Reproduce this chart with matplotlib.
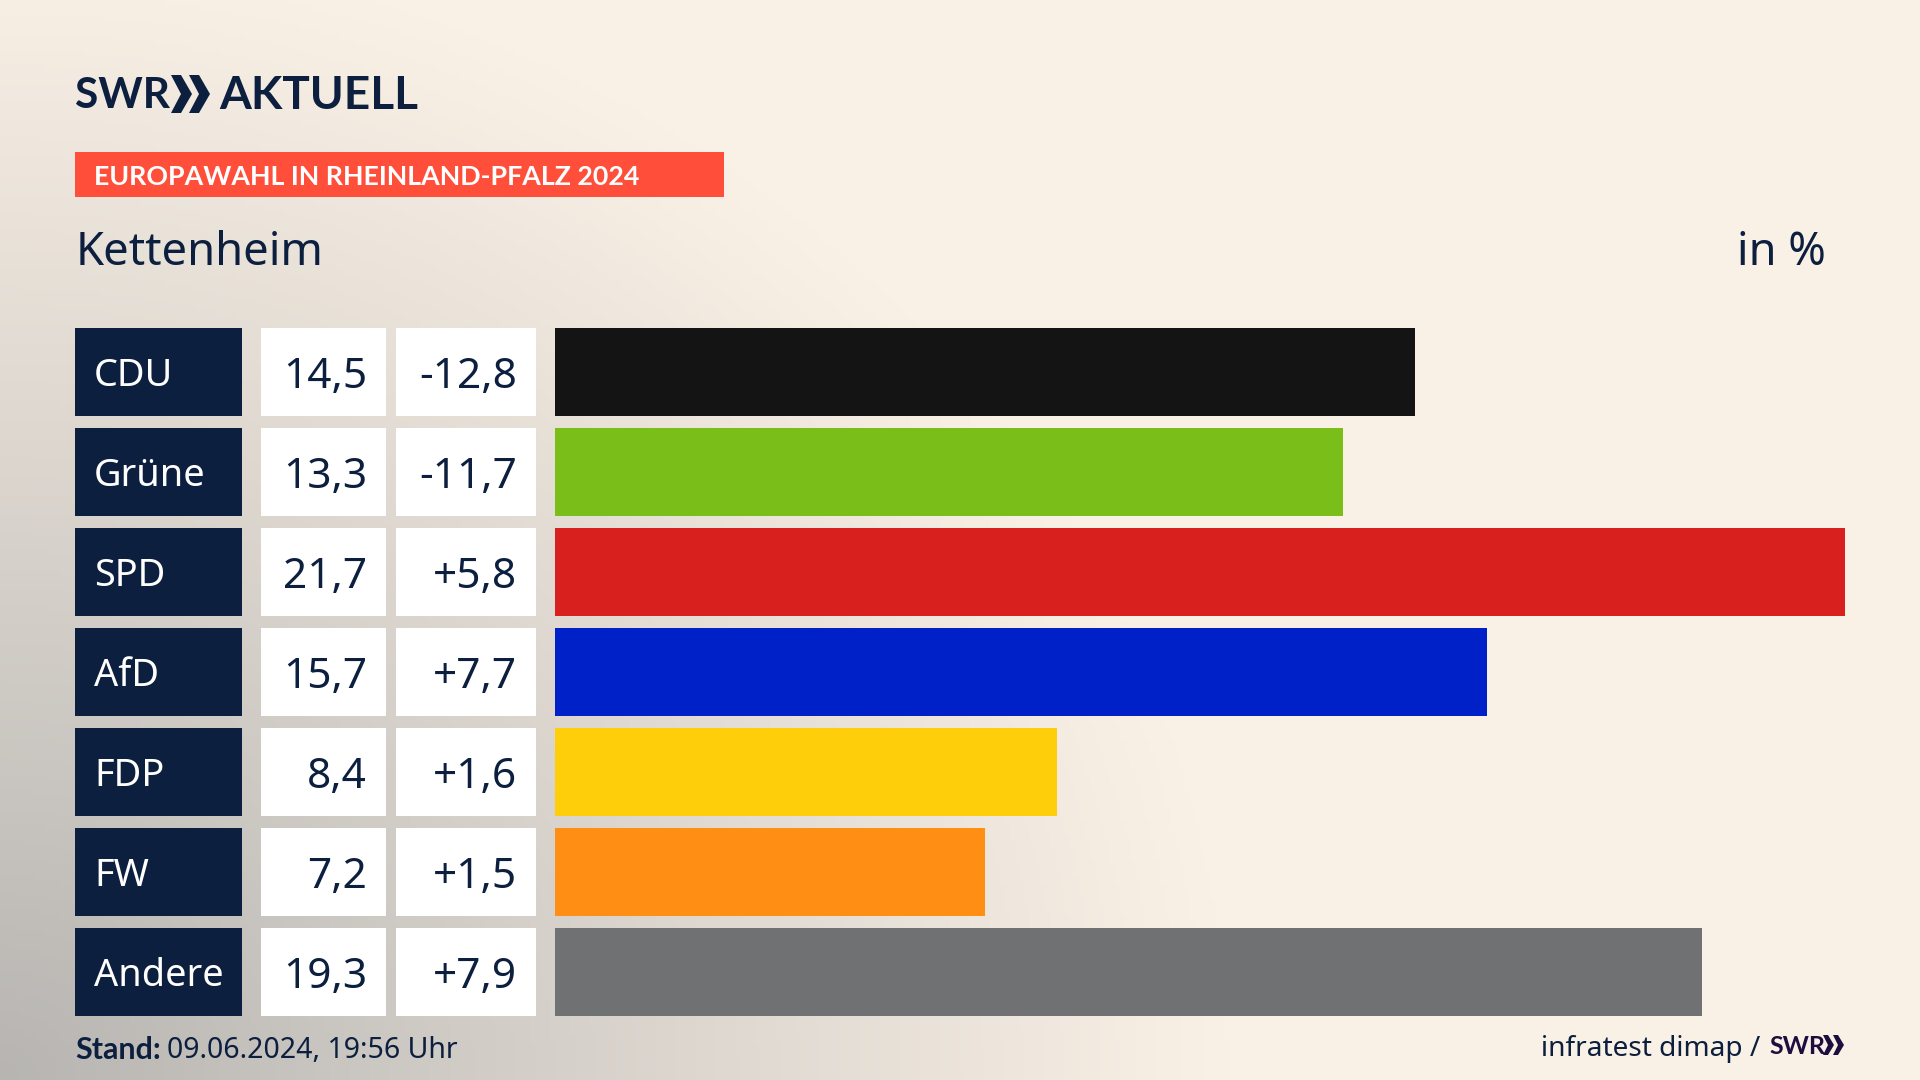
#Wahlbalken Kettenheim, Europawahl 2024
from matplotlib import pyplot as plt
from matplotlib.patches import Rectangle, Polygon
import numpy as np

parties = ['CDU', 'Grüne', 'SPD', 'AfD', 'FDP', 'FW', 'Andere']
#Bar lengths, the labels are the printed values
shares = [14.46, 13.25, 21.7, 15.67, 8.44, 7.23, 19.3]
share_labels = ['14,5', '13,3', '21,7', '15,7', '8,4', '7,2', '19,3']
diff_labels = ['-12,8', '-11,7', '+5,8', '+7,7', '+1,6', '+1,5', '+7,9']
bar_colors = ['#141414', '#7ABE1A', '#D8201E', '#0020C8', '#FFCE0A', '#FF8E15', '#707173']

NAVY = '#0C1F3F'
FONT = 'Noto Sans'
BOLD = 'Lato'

fig = plt.figure(figsize=(19.2, 10.8), dpi=100)

#Background layer in pixel coordinates
bg = fig.add_axes([0, 0, 1, 1])
bg.axis('off')

#Grey glow from the bottom left corner into the cream colour
xx, yy = np.meshgrid(np.linspace(0, 1, 384), np.linspace(0, 1, 216))
fade = np.clip(1 - np.sqrt((xx / 0.64) ** 2 + ((1 - yy) / 1.05) ** 2), 0, 1)
cream = np.array([250, 241, 230]) / 255
grey = np.array([183, 181, 178]) / 255
img = cream[None, None, :] + (grey - cream)[None, None, :] * fade[:, :, None]
bg.imshow(img, extent=[0, 1920, 1080, 0], aspect='auto', zorder=0)
bg.set_xlim(0, 1920)
bg.set_ylim(1080, 0)

#Logo
bg.text(75, 96, 'SWR', family=BOLD, weight='bold', fontsize=30.5, color=NAVY, va='center', ha='left')
for off in [0, 18]:
    bg.add_patch(Polygon([[171 + off, 75], [181 + off, 75], [192 + off, 94], [181 + off, 113], [171 + off, 113], [181 + off, 94]],
                         closed=True, fc=NAVY, ec='none', zorder=3))
bg.text(219, 96, 'AKTUELL', family=BOLD, weight='bold', fontsize=33, color=NAVY, va='center', ha='left')

#Red header band
bg.add_patch(Rectangle((75, 152), 649, 45, fc='#FF4F3B', ec='none', zorder=2))
bg.text(94, 177, 'EUROPAWAHL IN RHEINLAND-PFALZ 2024', family=BOLD, weight='bold', fontsize=19.3,
        color='white', va='center', ha='left', zorder=3)

bg.text(76, 253, 'Kettenheim', family=FONT, fontsize=32.7, color=NAVY, va='center', ha='left')
bg.text(1826, 253, 'in %', family=FONT, fontsize=32.5, color=NAVY, va='center', ha='right')

#Table cells left of the bars
row_top = 328
row_step = 100
row_h = 88.2
for i, party in enumerate(parties):
    y = row_top + i * row_step
    mid = y + row_h / 2 + 5
    bg.add_patch(Rectangle((75, y), 167, row_h, fc=NAVY, ec='none', zorder=2))
    bg.add_patch(Rectangle((261, y), 125, row_h, fc='white', ec='none', zorder=2))
    bg.add_patch(Rectangle((396, y), 140, row_h, fc='white', ec='none', zorder=2))
    bg.text(94, mid - 1, party, family=FONT, fontsize=27.3, color='white', va='center', ha='left', zorder=3)
    bg.text(367, mid, share_labels[i], family=FONT, fontsize=30.5, color=NAVY, va='center', ha='right', zorder=3)
    bg.text(517, mid, diff_labels[i], family=FONT, fontsize=30.5, color=NAVY, va='center', ha='right', zorder=3)

#Bars
ax = fig.add_axes([555 / 1920, 1 - (928 + row_h) / 1080, (1845 - 555) / 1920, (600 + row_h) / 1080])
ax.patch.set_alpha(0)
ax.barh(range(len(parties)), shares, height=row_h / row_step, color=bar_colors)
ax.set_xlim(0, 21.7)
ax.set_ylim(6 + row_h / row_step / 2, -row_h / row_step / 2)
ax.axis('off')

#Footer
bg.text(75, 1050, 'Stand:', family=BOLD, weight='bold', fontsize=22, color=NAVY, va='center', ha='left')
bg.text(167, 1050, '09.06.2024, 19:56 Uhr', family=FONT, fontsize=20.5, color=NAVY, va='center', ha='left')
bg.text(1760, 1049, 'infratest dimap /', family=FONT, fontsize=20.2, color=NAVY, va='center', ha='right')
bg.text(1769, 1047, 'SWR', family=BOLD, weight='bold', fontsize=18, color='#1C0F40', va='center', ha='left')
for off in [0, 10]:
    bg.add_patch(Polygon([[1823 + off, 1035], [1828 + off, 1035], [1834 + off, 1045], [1828 + off, 1055], [1823 + off, 1055], [1828 + off, 1045]],
                         closed=True, fc='#1C0F40', ec='none', zorder=3))

fig.savefig('out.png', dpi=100)
